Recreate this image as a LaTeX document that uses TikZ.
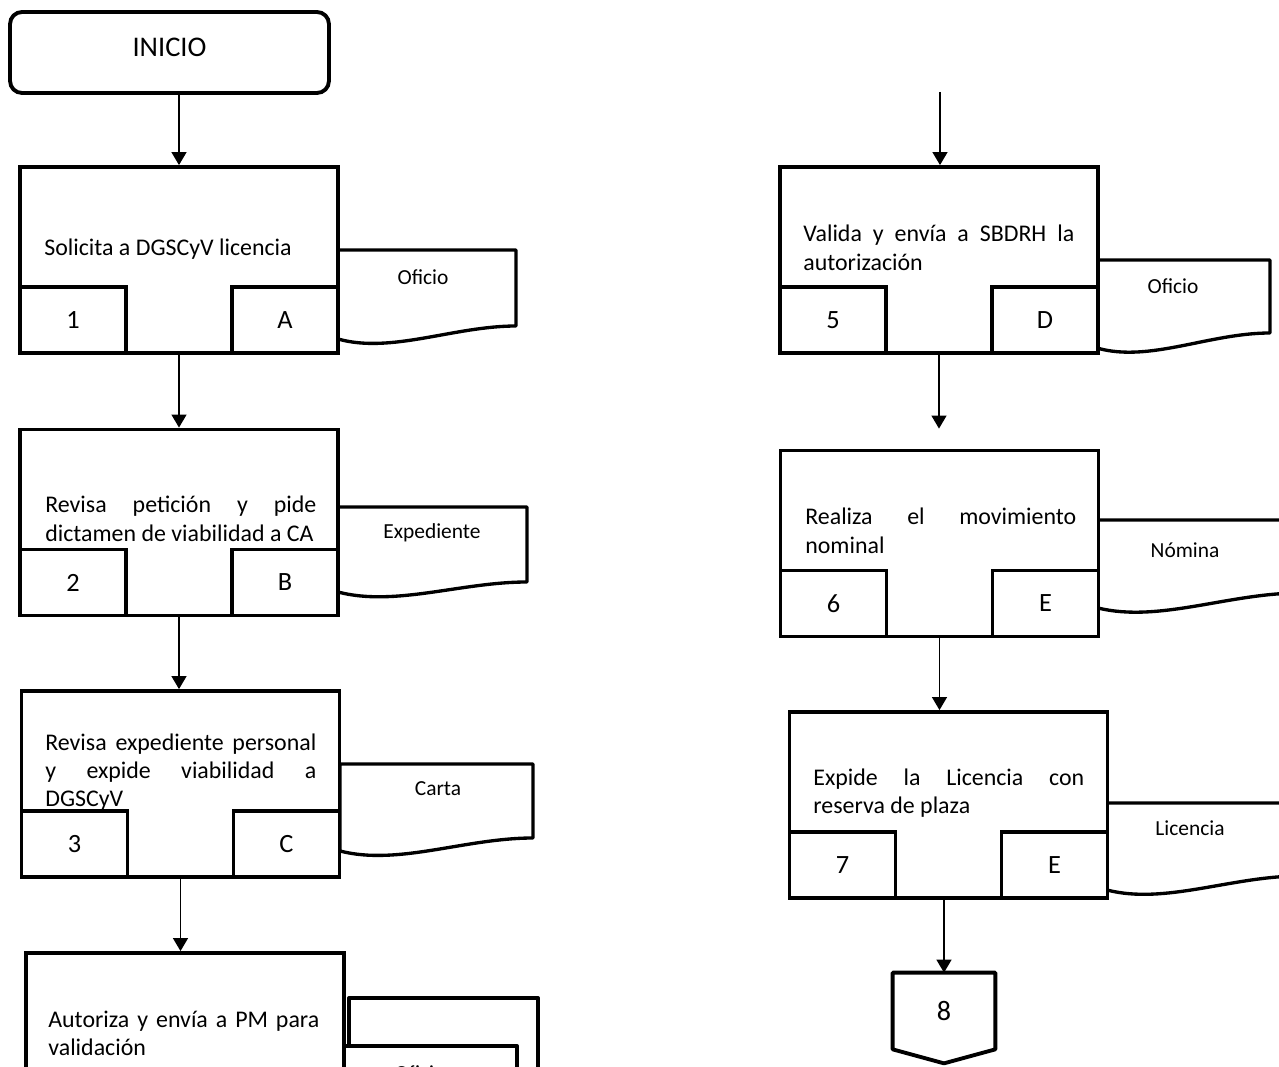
\documentclass[tikz,border=0pt]{standalone}
\usepackage{fontspec}
\setmainfont{Carlito}
\usetikzlibrary{arrows.meta,calc}

\begin{document}
\begin{tikzpicture}[
  x=0.02cm, y=-0.02cm,
  start/.style={draw, line width=2.2pt, rounded corners=0.24cm, minimum width=6.38cm, minimum height=1.62cm, text depth=6pt, font=\fontsize{16.2}{19}\selectfont},
  task/.style={draw, fill=white, line width=2.2pt, minimum width=6.36cm, minimum height=3.72cm, inner sep=0pt},
  sub/.style={draw, fill=white, line width=2.2pt, minimum width=2.12cm, minimum height=1.32cm, inner sep=0pt, font=\fontsize{15}{18}\selectfont},
  desc/.style={text width=5.42cm, align=justify, inner sep=0pt, font=\fontsize{13.6}{16}\selectfont},
  doc/.style={draw, fill=white, line width=1.9pt, line join=round},
  doclabel/.style={inner sep=0pt, font=\fontsize{12.2}{14}\selectfont},
  flow/.style={line width=0.9pt, -{Triangle[length=7.4pt, width=8.5pt]}},
]
\useasboundingbox (0,0) rectangle (1279,1067);
\clip (0,0) rectangle (1279,1067);

% ---- documents ----
\draw[doc] (338,250) -- (516,250) -- (516,326) .. controls (454,326) and (391,354) .. (338,339) -- cycle;
\draw[doc] (338,507) -- (527,507) -- (527,582) .. controls (461,582) and (395,607) .. (338,592) -- cycle;
\draw[doc] (340,764) -- (533,764) -- (533,838) .. controls (465,838) and (398,866) .. (340,851) -- cycle;
\draw[doc] (349,998) -- (538,998) -- (538,1150) -- (349,1150) -- cycle;
\draw[doc] (343,1046) -- (517,1046) -- (517,1150) -- (343,1150) -- cycle;
\draw[doc] (1097,260) -- (1270,260) -- (1270,333) .. controls (1209,333) and (1149,363) .. (1097,348) -- cycle;
\draw[doc] (1098,520) -- (1300,520) -- (1300,593) .. controls (1229,593) and (1159,623) .. (1098,608) -- cycle;
\draw[doc] (1107,803) -- (1300,803) -- (1300,876) .. controls (1232,876) and (1165,905) .. (1107,890) -- cycle;

\node[doclabel] (d1) at (423,277) {Oficio};
\node[doclabel] (d2) at (432,533) {Expediente};
\node[doclabel] (d3) at (438,789) {Carta};
\node[doclabel] (d4) at (420,1073) {Oficio};
\node[doclabel] (d5) at (1173,286) {Oficio};
\node[doclabel] (d6) at (1185,550) {Nómina};
\node[doclabel] (d7) at (1190,828) {Licencia};

% ---- left column ----
\node[start] (inicio) at (169.5,52.5) {INICIO};
\node[task] (b1) at (179,260) {};
\node[task] (b2) at (179,522.5) {};
\node[task] (b3) at (180.5,784) {};
\node[task] (b4) at (185,1046) {};

\node[desc, anchor=base west] (t1) at (44,256) {Solicita a DGSCyV licencia};
\node[desc, anchor=base west] (t2) at (45,513) {Revisa petición y pide\linebreak \mbox{dictamen de viabilidad a CA}};
\node[desc, anchor=base west] (t3) at (45,750) {Revisa expediente personal\linebreak y expide viabilidad a\linebreak DGSCyV};
\node[desc, anchor=base west] (t4) at (48,1027) {Autoriza y envía a PM para\linebreak validación};

\node[sub, anchor=south west] (n1) at (b1.south west) {1};
\node[sub, anchor=south east] (l1) at (b1.south east) {A};
\node[sub, anchor=south west] (n2) at (b2.south west) {2};
\node[sub, anchor=south east] (l2) at (b2.south east) {B};
\node[sub, anchor=south west] (n3) at (b3.south west) {3};
\node[sub, anchor=south east] (l3) at (b3.south east) {C};

% ---- right column ----
\node[task] (b5) at (939,260) {};
\node[task] (b6) at (939.5,543.5) {};
\node[task] (b7) at (948.5,805) {};

\node[desc, anchor=base west] (t5) at (803,242) {Valida y envía a SBDRH la\linebreak autorización};
\node[desc, anchor=base west] (t6) at (805,525) {Realiza el movimiento\linebreak nominal};
\node[desc, anchor=base west] (t7) at (813,785) {Expide la Licencia con\linebreak reserva de plaza};

\node[sub, anchor=south west] (n5) at (b5.south west) {5};
\node[sub, anchor=south east] (l5) at (b5.south east) {D};
\node[sub, anchor=south west] (n6) at (b6.south west) {6};
\node[sub, anchor=south east] (l6) at (b6.south east) {E};
\node[sub, anchor=south west] (n7) at (b7.south west) {7};
\node[sub, anchor=south east] (l7) at (b7.south east) {E};

% off-page connector
\node[minimum width=2.04cm, minimum height=1.52cm, inner sep=0pt, font=\fontsize{16}{19}\selectfont] (c8) at (944,1011) {8};
\draw[line width=2.2pt, line join=round] (c8.north west) -- (c8.north east) -- (c8.south east) -- ($(c8.south)+(0,14)$) -- (c8.south west) -- cycle;

% ---- flow ----
\coordinate (top5) at (940,92);
\coordinate (g6) at ($(b6.north)+(0,-20)$);
\draw[flow] (b1.north |- inicio.south) -- (b1.north);
\draw[flow] (b1.south) -- (b2.north);
\draw[flow] (b2.south) -- (b2.south |- b3.north);
\draw[flow] (b3.south) -- (b3.south |- b4.north);
\draw[flow] (top5) -- (top5 |- b5.north);
\draw[flow] (b5.south) -- (b5.south |- g6);
\draw[flow] (b6.south) -- (b6.south |- b7.north);
\draw[flow] (c8.north |- b7.south) -- (c8.north);
\end{tikzpicture}
\end{document}
